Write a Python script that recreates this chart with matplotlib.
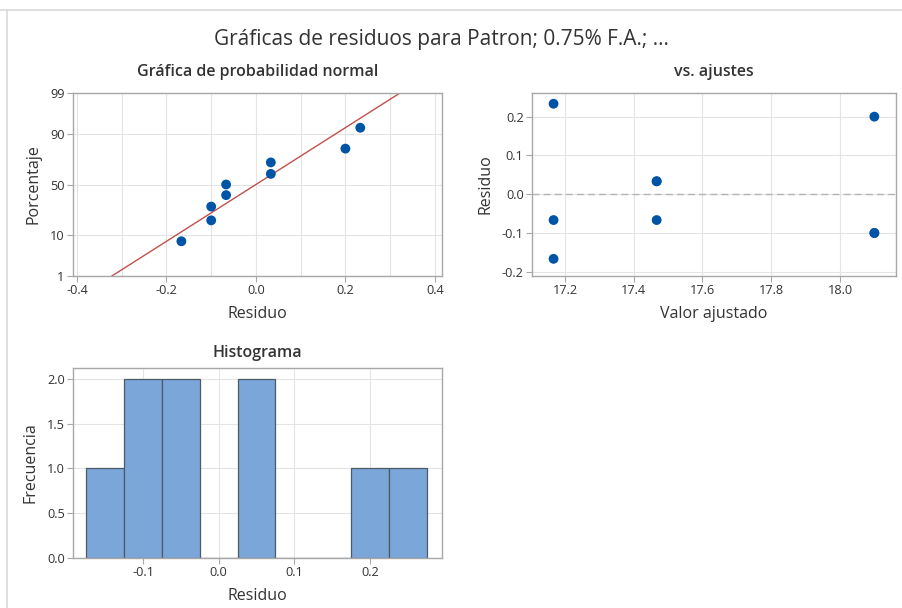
import numpy as np
import matplotlib
matplotlib.use("Agg")
import matplotlib.pyplot as plt
from matplotlib.lines import Line2D
from matplotlib.ticker import MultipleLocator, FixedLocator, FuncFormatter, NullLocator
from statistics import NormalDist

# Datos: valores ajustados y residuos
ajustes = [17.1667, 17.1667, 17.1667, 17.4667, 17.4667, 17.4667, 18.1, 18.1, 18.1]
residuos = [0.2333, -0.0667, -0.1667, 0.0333, 0.0333, -0.0667, 0.2, -0.1, -0.1]
bordes_hist = [-0.175, -0.125, -0.075, -0.025, 0.025, 0.075, 0.125, 0.175, 0.225, 0.275]
ticks_pct = [1, 10, 50, 90, 99]

titulo = "Gráficas de residuos para Patron; 0.75% F.A.; ..."

plt.rcParams['font.family'] = ['Open Sans', 'DejaVu Sans']

TXT = '#333333'
GRID = '#e4e4e4'
SPINE = '#a8a8a8'
AZUL = '#0054a6'
ROJO = '#c0504d'
BARRA = '#7ba6d9'
fmt1 = FuncFormatter(lambda v, p: f"{v:.1f}")
SUB = dict(fontsize=11.5, color=TXT, fontweight='semibold')
LAB = dict(fontsize=11.5, color=TXT, fontweight='medium')

fig = plt.figure(figsize=(9.02, 6.08), dpi=100)

# Marco exterior claro
fig.add_artist(Line2D([0, 1], [1 - 9.5 / 608, 1 - 9.5 / 608], transform=fig.transFigure,
                      color='#dcdcdc', lw=1.3))
fig.add_artist(Line2D([6.5 / 902, 6.5 / 902], [0, 1 - 9.5 / 608], transform=fig.transFigure,
                      color='#dcdcdc', lw=1.3))

fig.text(0.4895, 1 - 40 / 608, titulo, ha='center', va='center', fontsize=15,
         color=TXT, fontweight='medium')

def estilo(ax):
    for s in ax.spines.values():
        s.set_color(SPINE)
        s.set_linewidth(1.0)
    ax.tick_params(colors=SPINE, labelcolor=TXT, labelsize=9.2, length=4, width=0.8,
                   direction='out', pad=2)
    for t in ax.get_xticklabels() + ax.get_yticklabels():
        t.set_fontweight('medium')
    ax.set_axisbelow(True)

# Escala de probabilidad normal (porcentaje -> z)
_nd = NormalDist()

def fwd(p):
    p = np.clip(np.asarray(p, dtype=float), 1e-6, 100 - 1e-6)
    return np.vectorize(lambda v: _nd.inv_cdf(v / 100.0), otypes=[float])(p)

def inv(z):
    z = np.asarray(z, dtype=float)
    return np.vectorize(lambda v: _nd.cdf(v) * 100.0, otypes=[float])(z)

# --- Gráfica de probabilidad normal ---
ax1 = fig.add_axes([73 / 902, 1 - 276 / 608, 369 / 902, 183 / 608])
ax1.set_yscale('function', functions=(fwd, inv))
ax1.set_ylim(1, 99)
ax1.set_xlim(-0.409, 0.416)
r_ord = np.sort(residuos)
n = len(r_ord)
pct = (np.arange(1, n + 1) - 0.3) / (n + 0.4) * 100
mu = float(np.mean(residuos))
sd = float(np.std(residuos, ddof=1))
p_lin = np.array([1.0, 99.0])
x_lin = mu + sd * fwd(p_lin)
ax1.plot(x_lin, p_lin, color=ROJO, lw=1.0, zorder=2)
ax1.scatter(r_ord, pct, s=50, color=AZUL, zorder=3, edgecolors='none')
ax1.yaxis.set_major_locator(FixedLocator(ticks_pct))
ax1.yaxis.set_minor_locator(NullLocator())
ax1.yaxis.set_major_formatter(FuncFormatter(lambda v, p: f"{v:.0f}"))
ax1.xaxis.set_major_locator(MultipleLocator(0.2))
ax1.xaxis.set_minor_locator(MultipleLocator(0.1))
ax1.xaxis.set_major_formatter(fmt1)
ax1.grid(True, which='both', axis='x', color=GRID, lw=0.8)
ax1.grid(True, which='major', axis='y', color=GRID, lw=0.8)
estilo(ax1)
ax1.tick_params(axis='x', which='minor', length=0)
ax1.set_title("Gráfica de probabilidad normal", pad=12, **SUB)
ax1.set_xlabel("Residuo", labelpad=6, **LAB)
ax1.set_ylabel("Porcentaje", labelpad=6, **LAB)

# --- vs. ajustes ---
ax2 = fig.add_axes([532 / 902, 1 - 276 / 608, 364 / 902, 183 / 608])
ax2.set_xlim(17.104, 18.163)
ax2.set_ylim(-0.211, 0.261)
ax2.axhline(0, color='#b4b4b4', lw=1.0, ls=(0, (5, 3)), zorder=1)
ax2.scatter(ajustes, residuos, s=50, color=AZUL, zorder=3, edgecolors='none')
ax2.xaxis.set_major_locator(MultipleLocator(0.2))
ax2.yaxis.set_major_locator(MultipleLocator(0.1))
ax2.xaxis.set_major_formatter(fmt1)
ax2.yaxis.set_major_formatter(fmt1)
ax2.grid(True, color=GRID, lw=0.8)
estilo(ax2)
ax2.set_title("vs. ajustes", pad=12, **SUB)
ax2.set_xlabel("Valor ajustado", labelpad=6, **LAB)
ax2.set_ylabel("Residuo", labelpad=6, **LAB)

# --- Histograma ---
ax3 = fig.add_axes([73 / 902, 1 - 558 / 608, 369 / 902, 190 / 608])
ax3.hist(residuos, bins=bordes_hist, color=BARRA, edgecolor='#4d5a66', linewidth=0.9, zorder=2)
ax3.set_xlim(-0.1925, 0.295)
ax3.set_ylim(0, 2.12)
ax3.xaxis.set_major_locator(MultipleLocator(0.1))
ax3.yaxis.set_major_locator(MultipleLocator(0.5))
ax3.xaxis.set_major_formatter(fmt1)
ax3.yaxis.set_major_formatter(fmt1)
ax3.grid(True, color=GRID, lw=0.8)
estilo(ax3)
ax3.set_title("Histograma", pad=8, **SUB)
ax3.set_xlabel("Residuo", labelpad=6, **LAB)
ax3.set_ylabel("Frecuencia", labelpad=6, **LAB)

fig.savefig("out.png", dpi=100, facecolor='white')
